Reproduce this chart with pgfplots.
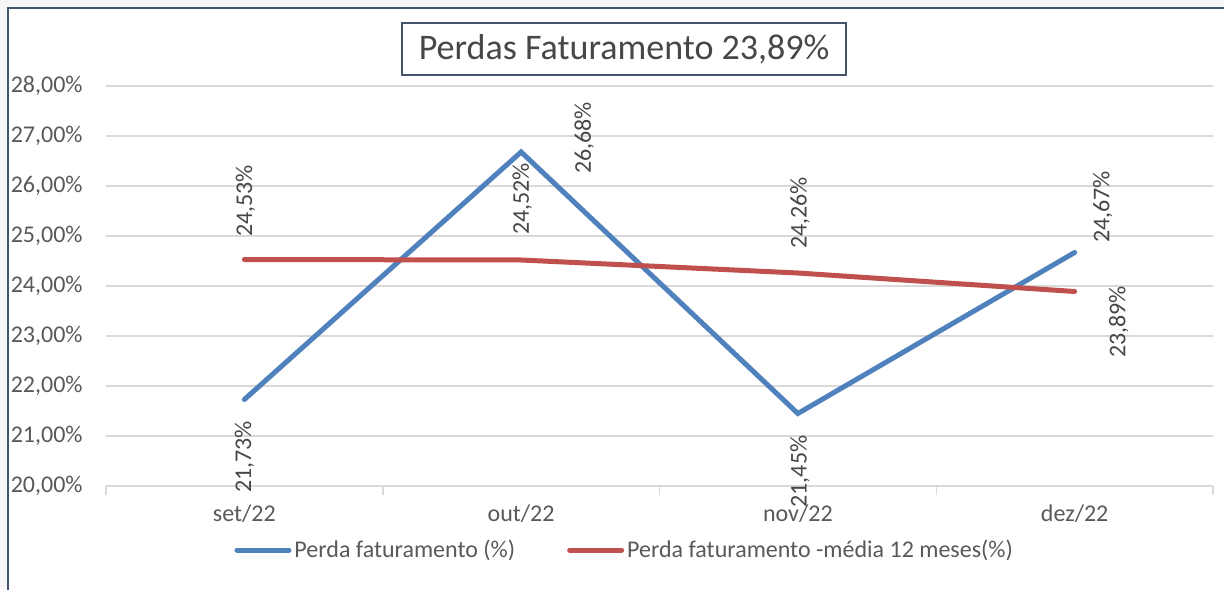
\documentclass[border=0pt]{standalone}
\usepackage{fontspec}
\setmainfont{Carlito}
\usepackage{pgfplots}
\pgfplotsset{compat=1.18}

\definecolor{serieA}{RGB}{79,129,189}
\definecolor{serieB}{RGB}{192,80,77}
\definecolor{gridc}{RGB}{217,217,217}
\definecolor{txt}{RGB}{89,89,89}
\definecolor{frame}{RGB}{68,84,106}

% x, valor, deslocamento do rotulo (pt)
\pgfplotstableread{
x y dx dy
0 21.73 0 -28.75
1 26.68 31.5 7
2 21.45 1 -29
3 24.67 14 22.75
}\perda
\pgfplotstableread{
x y dx dy
0 24.53 0.5 29.25
1 24.52 0.5 30.5
2 24.26 1 30
3 23.89 22 -15.25
}\media

\newcommand{\fs}{\fontsize{12}{14}\selectfont}

\pgfplotsset{rotulo/.style={
  nodes near coords={\pgfmathprintnumber[fixed,fixed zerofill,precision=2,use comma]{\pgfplotspointmeta}\%},
  point meta=y,
  visualization depends on={\thisrow{dx} \as \dx},
  visualization depends on={\thisrow{dy} \as \dy},
  nodes near coords style={font=\fs, text=black!72, anchor=center, inner sep=0pt,
    xshift=\dx pt, yshift=\dy pt, rotate=90},
}}

\begin{document}
\begin{tikzpicture}
\useasboundingbox (-53pt,-51.5pt) rectangle (559pt,243pt);
\fill[gray!7] (-53pt,-51.5pt) rectangle (559pt,243pt);
\filldraw[fill=white, draw=frame, line width=1pt] (-49pt,239pt) rectangle (600pt,-80pt);
\begin{axis}[
  at={(0,0)}, anchor=south west,
  scale only axis,
  width=553.5pt, height=200pt,
  xmin=-0.5, xmax=3.5,
  ymin=20, ymax=28,
  ytick={20,21,...,28},
  xtick={0,1,2,3},
  xticklabels={set/22, out/22, nov/22, dez/22},
  minor xtick={-0.5,0.5,1.5,2.5,3.5},
  major tick length=0pt,
  minor tick length=4.5pt,
  tick align=outside,
  tick pos=left,
  minor tick style={gridc, line width=0.75pt},
  axis lines*=left,
  x axis line style={gridc, line width=0.75pt},
  y axis line style={draw=none},
  ymajorgrids,
  grid style={gridc, line width=0.75pt},
  /pgf/number format/assume math mode=true,
  yticklabel={\pgfmathprintnumber[fixed,fixed zerofill,precision=2,use comma]{\tick}\%},
  yticklabel style={font=\fs, text=txt, anchor=east, inner sep=0pt, xshift=-11.5pt},
  xticklabel style={font=\fs, text=txt, anchor=base, inner sep=0pt, yshift=-17.5pt},
  clip=false,
  title={Perdas Faturamento 23,89\%},
  title style={at={(0.468,1.0625)}, anchor=center, draw=frame, line width=0.9pt,
    fill=white, font=\fontsize{18}{20}\selectfont, text=black!72,
    inner xsep=8.5pt, minimum height=26pt},
  legend columns=2,
  legend style={at={(0.469,-0.16)}, anchor=center, draw=none, fill=none,
    font=\fs, text=txt,
    /tikz/every even column/.append style={column sep=24.5pt},
    nodes={inner xsep=1.5pt}},
  legend image code/.code={\draw[#1, line cap=round] (0pt,0pt) -- (26pt,0pt);},
]
\addplot[serieA, line width=2.5pt, line cap=round, line join=miter, mark=none, rotulo] table[x=x, y=y] {\perda};
\addplot[serieB, line width=2.5pt, line cap=round, mark=none, rotulo] table[x=x, y=y] {\media};
\legend{Perda faturamento (\%), Perda faturamento -média 12 meses(\%)}
\end{axis}
\end{tikzpicture}
\end{document}
